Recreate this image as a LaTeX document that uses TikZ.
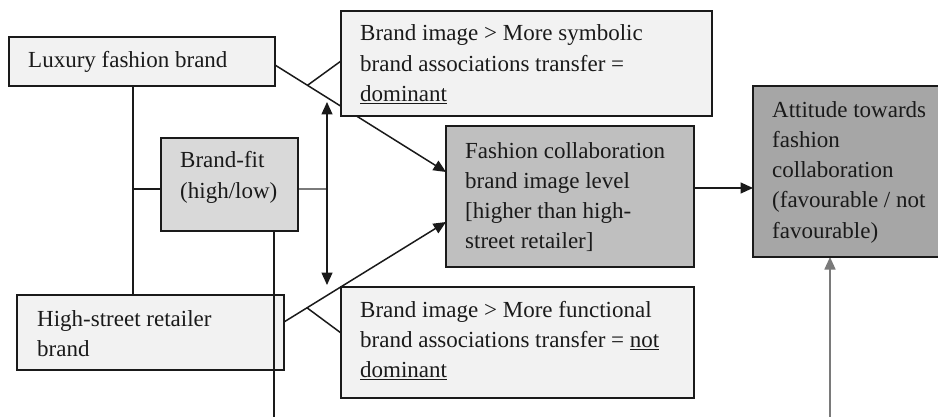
\documentclass[tikz,border=0pt]{standalone}
\usepackage{fontspec}
\setmainfont{Liberation Serif}
\usetikzlibrary{arrows.meta}
\definecolor{shadeA}{HTML}{F2F2F2}
\definecolor{shadeB}{HTML}{D9D9D9}
\definecolor{shadeC}{HTML}{BFBFBF}
\definecolor{shadeD}{HTML}{A6A6A6}
\definecolor{ink}{HTML}{1A1A1A}
\definecolor{greyline}{HTML}{7A7A7A}
\pgfdeclarelayer{back}
\pgfsetlayers{back,main}
\begin{document}
\begin{tikzpicture}[x=1pt,y=-1pt,
  box/.style={draw=ink, line width=1.6pt, anchor=north west, inner sep=0pt, outer sep=0pt},
  % texts are placed by the baseline of their last line
  txt/.style={anchor=base west, inner sep=0pt, align=left, text=ink,
              font=\fontsize{23}{30.3}\selectfont},
  link/.style={line width=1.5pt, draw=ink},
  thin/.style={line width=1.2pt, draw=greyline},
  tip/.style={-{Triangle[length=12.5pt,width=11pt]}},
  tips/.style={{Triangle[length=12.5pt,width=11pt]}-{Triangle[length=12.5pt,width=11pt]}}]
\clip (0,0) rectangle (938,417);
\useasboundingbox (0,0) rectangle (938,417);

% boxes
\node[box, fill=shadeA, minimum width=266pt, minimum height=49pt]  (lux) at (9,37)    {};
\node[box, fill=shadeA, minimum width=371pt, minimum height=105pt] (sym) at (341,11)  {};
\node[box, fill=shadeB, minimum width=137pt, minimum height=93pt]  (fit) at (161,138) {};
\node[box, fill=shadeC, minimum width=248pt, minimum height=141pt] (col) at (446,126) {};
\node[box, fill=shadeD, minimum width=200pt, minimum height=171pt] (att) at (753,86)  {};
\node[box, fill=shadeA, minimum width=267pt, minimum height=75pt]  (hs)  at (17,295)  {};
\node[box, fill=shadeA, minimum width=353pt, minimum height=111pt] (fun) at (341,287) {};

% box texts
\node[txt] (luxT) at (28,68)      {Luxury fashion brand};
\node[txt] (symT) at (360,101.6)  {Brand image > More symbolic\\brand associations transfer =\\\underline{dominant}};
\node[txt] (fitT) at (180,198.3)  {Brand-fit\\(high/low)};
\node[txt] (colT) at (465,248.9)  {Fashion collaboration\\brand image level\\{[}higher than high-\\street retailer]};
\node[txt] (attT) at (772,238.2)  {Attitude towards\\fashion\\collaboration\\(favourable / not\\favourable)};
\node[txt] (hsT)  at (37,356.3)   {High-street retailer\\brand};
\node[txt] (funT) at (360,377.6)  {Brand image > More functional\\brand associations transfer = \underline{not}\\\underline{dominant}};

% junction points
\coordinate (j1) at (133,189);
\coordinate (da1) at (327,102);
\coordinate (da2) at (327,285);
\coordinate (base1) at (274,417);
\coordinate (base2) at (830,417);

\begin{pgfonlayer}{back}
  % luxury brand to collaboration, with branch to symbolic transfer
  \draw[link, tip] (lux.east |- 0,65) -- coordinate[pos=0.19] (b1) (col.west |- 0,172);
  \draw[link] (b1) -- (sym.west |- 0,61);
  % high-street brand to collaboration, with branch to functional transfer
  \draw[link, tip] (hs.east |- 0,322) -- coordinate[pos=0.142] (b2) (col.west |- 0,222);
  \draw[link] (b2) -- (fun.west |- 0,333);
  % brand pair linked through brand-fit
  \draw[link] (133,0 |- lux.south) -- (133,0 |- hs.north);
  \draw[link] (j1) -- (j1 -| fit.west);
  \draw[thin] (fit.east |- j1) -- (da1 |- j1);
  \draw[link, tips] (da1) -- (da2);
  % collaboration to attitude
  \draw[link, tip] (col.east |- 0,188) -- (att.west |- 0,188);
  \draw[thin, line width=1.6pt, tip] (base2) -- (att.south -| base2);
\end{pgfonlayer}

% brand-fit line running down over the retailer box
\draw[link] (base1 |- fit.south) -- (base1);
\end{tikzpicture}
\end{document}
